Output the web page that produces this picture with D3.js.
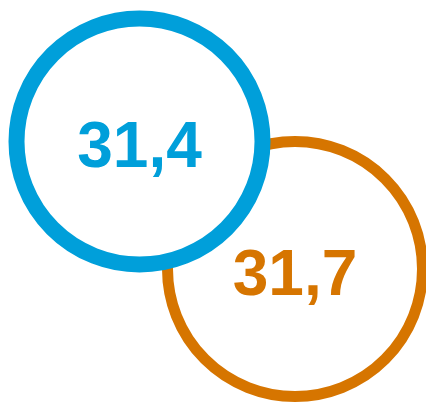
<!DOCTYPE html>
<html><head><meta charset="utf-8">
<script src="https://d3js.org/d3.v7.min.js"></script>
<style>html,body{margin:0;padding:0;background:#fff;overflow:hidden;}svg{display:block;}</style>
</head><body>
<script>
const series = ["A", "B"];
const values = [31.4, 31.7];
const colors = ["#009FDA", "#D67500"];
const strokeWidths = [16, 11];

const W = 426, H = 402;
const svg = d3.select("body").append("svg").attr("width", W).attr("height", H);
const fmt = v => d3.format(".1f")(v).replace(".", ",");

const x = d3.scalePoint().domain(series).range([139.5, 295]);
const y = d3.scalePoint().domain(series).range([141.5, 269]);
const radii = [123, 127.5];

const data = series.map((s, i) => ({s, v: values[i], c: colors[i], sw: strokeWidths[i], r: radii[i]}));
const order = [data[1], data[0]];
const g = svg.selectAll("g.c").data(order).join("g").attr("class", "c");
g.append("circle")
  .attr("cx", d => x(d.s)).attr("cy", d => y(d.s))
  .attr("r", d => d.r)
  .attr("fill", "#fff").attr("stroke", d => d.c).attr("stroke-width", d => d.sw);
g.append("text")
  .attr("x", d => x(d.s)).attr("y", d => y(d.s) + 25.5)
  .attr("text-anchor", "middle")
  .attr("font-family", "Liberation Sans, Arial, sans-serif")
  .attr("font-weight", "bold").attr("font-size", 64)
  .attr("fill", d => d.c)
  .text(d => fmt(d.v));
</script>
</body></html>
